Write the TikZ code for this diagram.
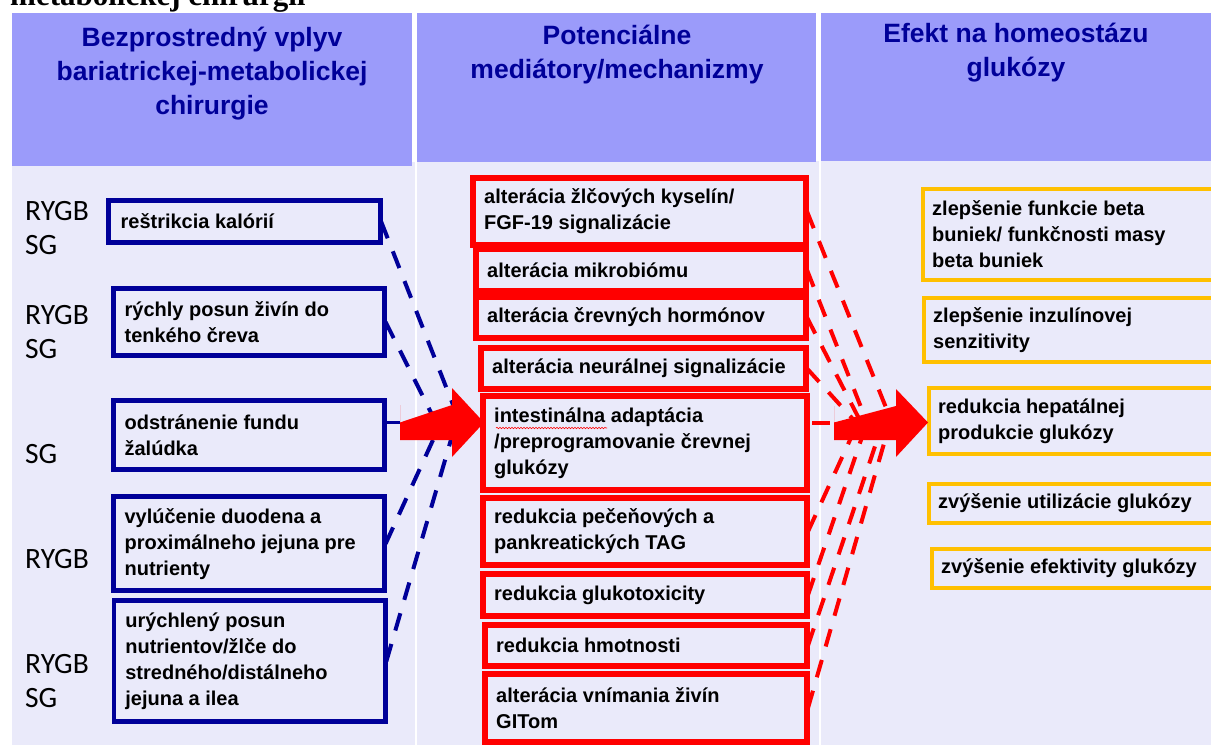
\documentclass[tikz,border=0pt]{standalone}
\usepackage{fontspec}
\setmainfont{Liberation Sans}
\newfontfamily\carl{Carlito}
\newfontfamily\tnr{Liberation Serif}
\usetikzlibrary{decorations.pathmorphing}
\definecolor{navy}{RGB}{0,0,153}
\definecolor{hdrc}{RGB}{155,155,250}
\definecolor{bodyc}{RGB}{234,234,250}
\definecolor{orng}{RGB}{255,192,0}
\definecolor{redc}{RGB}{255,0,0}
\begin{document}
\begin{tikzpicture}[x=1pt,y=-1pt,
  hdr/.style={anchor=base, align=center, text=navy, inner sep=0,
    font=\bfseries\fontsize{26.5}{34}\selectfont},
  lbl/.style={anchor=base west, inner sep=0, font=\carl\fontsize{29.5}{34}\selectfont},
  bbox/.style={draw=navy, line width=3.2, minimum width=270, inner sep=0},
  rbox/.style={draw=redc, line width=4, inner sep=0},
  obox/.style={draw=orng, line width=4, minimum width=317, inner sep=0},
  btxt/.style={anchor=west, align=left, inner sep=0,
    font=\bfseries\fontsize{20}{26}\selectfont},
  bdash/.style={draw=navy, line width=4, dash pattern=on 18 off 14},
  rdash/.style={draw=redc, line width=4, dash pattern=on 18 off 14},
  bigarrow/.style={fill=redc}
]
\useasboundingbox (0,0) rectangle (1211,745);
\clip (0,0) rectangle (1211,745);
\fill[white] (0,0) rectangle (1211,745);
% cut-off title
\node[anchor=base west, inner sep=0, font=\tnr\bfseries\fontsize{31}{36}\selectfont] (ttl) at (10,5.5) {metabolickej chirurgii};
% backgrounds
\fill[bodyc] (12,13) rectangle (1211,745);
\fill[white] (412,13) rectangle (417,162);
\fill[white] (816,13) rectangle (821,161);
\fill[white] (414.5,13) rectangle (416.5,745);
\fill[white] (818.5,13) rectangle (820.5,745);
\fill[hdrc] (12,13) rectangle (412,166);
\fill[hdrc] (417,13) rectangle (816,162);
\fill[hdrc] (821,13) rectangle (1211,161);
% headers (base anchor = last line baseline)
\node[hdr] (h1) at (212,114) {Bezprostredný vplyv\\bariatrickej-metabolickej\\chirurgie};
\node[hdr] (h2) at (617,78) {Potenciálne\\mediátory/mechanizmy};
\node[hdr] (h3) at (1016,76) {Efekt na homeostázu\\glukózy};
% side labels
\node[lbl] (r1a) at (25,220) {RYGB};
\node[lbl] (r1b) at (25,254) {SG};
\node[lbl] (r2a) at (25,324) {RYGB};
\node[lbl] (r2b) at (25,358) {SG};
\node[lbl] (r3b) at (25,463) {SG};
\node[lbl] (r4a) at (25,568) {RYGB};
\node[lbl] (r5a) at (25,673) {RYGB};
\node[lbl] (r5b) at (25,707) {SG};
% left boxes
\node[bbox, minimum height=40] (b1) at (244.5,221.5) {};
\node[bbox, minimum height=65] (b2) at (249,322) {};
\node[bbox, minimum height=67] (b3) at (249,435) {};
\node[bbox, minimum height=92.5] (b4) at (249,543.75) {};
\node[bbox, minimum height=119.5] (b5) at (249.75,661.25) {};
% middle boxes
\node[rbox, minimum width=331, minimum height=65] (m1) at (639.5,211.5) {};
\node[rbox, minimum width=328, minimum height=40] (m2) at (641,270) {};
\node[rbox, minimum width=328, minimum height=39] (m3) at (641,317.5) {};
\node[rbox, minimum width=323, minimum height=39] (m4) at (643.5,368.5) {};
\node[rbox, minimum width=322, minimum height=92] (m5) at (645,443) {};
\node[rbox, minimum width=322, minimum height=65] (m6) at (645,531.5) {};
\node[rbox, minimum width=322, minimum height=40] (m7) at (645,595) {};
\node[rbox, minimum width=320, minimum height=39] (m8) at (646,645.5) {};
\node[rbox, minimum width=320, minimum height=66] (m9) at (646,708) {};
% right boxes
\node[obox, minimum height=91] (o1) at (1081.5,234.5) {};
\node[obox, minimum height=64] (o2) at (1082.5,330) {};
\node[obox, minimum height=66] (o3) at (1087.5,421) {};
\node[obox, minimum height=39] (o4) at (1087.5,503.5) {};
\node[obox, minimum height=39] (o5) at (1090.5,568.5) {};
% arrow anchor points
\coordinate (LA) at (400,422.5);
\coordinate (RA) at (834,422.5);
\coordinate (tb1) at (460,422.5);
\coordinate (tb2) at (436,422.5);
\coordinate (tb4) at (441,422.5);
\coordinate (tb5) at (456,422.5);
\coordinate (tr1) at (892,422.5);
\coordinate (tr2) at (867,422.5);
\coordinate (tr3) at (861,422.5);
\coordinate (tr4) at (856,422.5);
\coordinate (tr6) at (858,422.5);
\coordinate (tr7) at (867,422.5);
\coordinate (tr8) at (883,422.5);
\coordinate (tr9) at (890,422.5);
\coordinate (m5s) at (812,422.5);
% dashed connectors
\draw[bdash] (b1.east) -- (tb1);
\draw[bdash] (b2.east) -- (tb2);
\draw[bdash] (b4.east) -- (tb4);
\draw[bdash] (b5.east) -- (tb5);
\draw[navy, line width=3.2] (b3.east |- LA) -- (LA);
\draw[rdash] (m1.east) -- (tr1);
\draw[rdash] (m2.east) -- (tr2);
\draw[rdash] (m3.east) -- (tr3);
\draw[rdash] (m4.east) -- (tr4);
\draw[rdash] (m5s) -- (RA);
\draw[rdash] (m6.east) -- (tr6);
\draw[rdash] (m7.east) -- (tr7);
\draw[rdash] (m8.east) -- (tr8);
\draw[rdash] (m9.east) -- (tr9);
% redraw boxes borders on top of connector starts
\foreach \b in {b1,b2,b3,b4,b5}{\draw[navy, line width=3.2] (\b.north west) rectangle (\b.south east);}
\foreach \b in {m1,m2,m3,m4,m5,m6,m7,m8,m9}{\draw[redc, line width=4] (\b.north west) rectangle (\b.south east);}
% big arrows
\fill[bigarrow] (LA) -- (452,405) -- (452,388) -- (484,422.5) -- (452,457) -- (452,440) -- (400,440) -- (400,405) -- cycle;
\fill[bigarrow] (RA) -- (896,406) -- (896,389) -- (928,422.5) -- (896,457) -- (896,440) -- (834,440) -- (834,406) -- cycle;
% box texts
\node[btxt] (b1t) at ([xshift=12.5]b1.west) {reštrikcia kalórií};
\node[btxt] (b2t) at ([xshift=12]b2.west) {rýchly posun živín do\\tenkého čreva};
\node[btxt] (b3t) at ([xshift=12]b3.west) {odstránenie fundu\\žalúdka};
\node[btxt] (b4t) at ([xshift=12]b4.west) {vylúčenie duodena a\\proximálneho jejuna pre\\nutrienty};
\node[btxt] (b5t) at ([xshift=12]b5.west) {urýchlený posun\\nutrientov/žlče do\\stredného/distálneho\\jejuna a ilea};
\node[btxt] (m1t) at ([xshift=12]m1.west) {alterácia žlčových kyselín/\\FGF-19 signalizácie};
\node[btxt] (m2t) at ([xshift=12]m2.west) {alterácia mikrobiómu};
\node[btxt] (m3t) at ([xshift=12]m3.west) {alterácia črevných hormónov};
\node[btxt] (m4t) at ([xshift=12]m4.west) {alterácia neurálnej signalizácie};
\node[btxt] (m5t) at ([xshift=12]m5.west) {intestinálna adaptácia\\/preprogramovanie črevnej\\glukózy};
\node[btxt] (m6t) at ([xshift=12]m6.west) {redukcia pečeňových a\\pankreatických TAG};
\node[btxt] (m7t) at ([xshift=12]m7.west) {redukcia glukotoxicity};
\node[btxt] (m8t) at ([xshift=12]m8.west) {redukcia hmotnosti};
\node[btxt] (m9t) at ([xshift=12]m9.west) {alterácia vnímania živín\\GITom};
\draw[redc, line width=0.6, decorate, decoration={snake, amplitude=0.7, segment length=3}] (496,428) -- (607,428);
\node[btxt] (o1t) at ([xshift=11]o1.west) {zlepšenie funkcie beta\\buniek/ funkčnosti masy\\beta buniek};
\node[btxt] (o2t) at ([xshift=11]o2.west) {zlepšenie inzulínovej\\senzitivity};
\node[btxt] (o3t) at ([xshift=11]o3.west) {redukcia hepatálnej\\produkcie glukózy};
\node[btxt] (o4t) at ([xshift=11]o4.west) {zvýšenie utilizácie glukózy};
\node[btxt] (o5t) at ([xshift=11]o5.west) {zvýšenie efektivity glukózy};
\end{tikzpicture}
\end{document}
